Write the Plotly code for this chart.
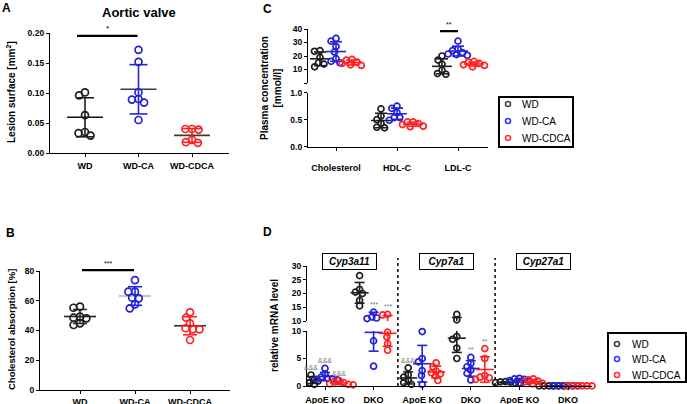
import math
import numpy as np
import plotly.graph_objects as go

W, H = 687, 404
FONT = "Liberation Sans"

# ---------------- data ----------------
groups = ["WD", "WD-CA", "WD-CDCA"]

# Panel A - lesion surface [mm2]
A_wd = [0.101, 0.096, 0.063, 0.035, 0.033, 0.029]
A_ca = [0.172, 0.152, 0.101, 0.089, 0.084, 0.090, 0.055]
A_cdca = [0.039, 0.040, 0.040, 0.022, 0.017, 0.018]
A_yticks = [0.0, 0.05, 0.10, 0.15, 0.20]

# Panel B - cholesterol absorption [%]
B_wd = [55.3, 56.0, 48.2, 49.3, 48.6, 43.7, 44.8]
B_ca = [73.9, 66.1, 66.1, 62.1, 61.6, 57.6, 54.9]
B_cdca = [52.2, 48.6, 44.8, 40.8, 40.8, 41.5, 33.6]
B_yticks = [0, 20, 40, 60, 80]

# Panel C - plasma concentration [mmol/l]
C_categories = ["Cholesterol", "HDL-C", "LDL-C"]
C_wd = [[23.5, 24.0, 19.0, 14.0, 12.0, 15.0],
        [0.70, 0.57, 0.50, 0.43, 0.35, 0.36],
        [20.0, 17.0, 14.0, 9.5, 6.5, 7.0]]
C_ca = [[33.0, 31.0, 27.0, 23.0, 18.0, 16.0, 15.0],
        [0.75, 0.71, 0.63, 0.54, 0.54, 0.49],
        [31.0, 25.0, 24.0, 22.5, 21.5, 21.0, 20.5]]
C_cdca = [[17.5, 17.0, 14.5, 13.5, 13.0, 15.5],
          [0.46, 0.46, 0.43, 0.41, 0.38, 0.37],
          [16.0, 15.5, 14.5, 13.0, 12.0, 13.5]]
C_upper_ticks = [0, 10, 20, 30, 40]
C_lower_ticks = [0.0, 0.5, 1.0]

# Panel D - relative mRNA level
D_genes = ["Cyp3a11", "Cyp7a1", "Cyp27a1"]
D_genotypes = ["ApoE KO", "DKO"]
D_wd = [[2.0, 1.5, 1.2, 0.9, 0.6, 0.3],
        [26.5, 21.5, 20.5, 20.0, 17.5, 15.5],
        [3.3, 2.0, 1.6, 1.0, 0.6, 0.3],
        [12.4, 10.4, 9.0, 8.5, 6.9, 5.0],
        [0.8, 0.75, 0.7, 0.6, 0.55, 0.5],
        [0.05, 0.04, 0.03, 0.03, 0.02, 0.02]]
D_ca = [[3.2, 2.2, 1.6, 1.4, 1.3, 1.2, 1.1],
        [13.2, 11.5, 11.1, 10.9, 8.2, 3.6],
        [9.9, 5.0, 4.4, 2.8, 1.9, 0.3],
        [5.2, 4.1, 3.5, 2.9, 2.3, 1.1],
        [1.4, 1.3, 1.2, 1.0, 0.8, 0.5],
        [0.05, 0.04, 0.03, 0.02, 0.02, 0.01]]
D_cdca = [[1.0, 0.8, 0.6, 0.4, 0.3, 0.2],
          [12.4, 12.2, 9.8, 8.9, 7.7, 6.5],
          [4.2, 3.5, 2.7, 2.4, 2.2, 1.8, 1.0],
          [6.8, 5.0, 1.9, 1.6, 1.5, 1.2],
          [1.3, 1.1, 0.9, 0.7, 0.5, 0.4],
          [0.04, 0.03, 0.03, 0.02, 0.02, 0.01]]
D_upper_ticks = [10, 15, 20, 25, 30]
D_lower_ticks = [0, 5, 10]
# significance marks: (category index, group index, text)
D_marks = [(0, 0, "&&&"), (0, 1, "&&&"), (0, 2, "&&&"), (2, 0, "&&&"),
           (1, 1, "***"), (1, 2, "***"), (3, 1, "**"), (3, 2, "**")]

# ---------------- style ----------------
GCOL = ["#1e1e1e", "#2323d6", "#ff2222"]
LEGCOL = ["#444444", "#3434ff", "#ff3434"]


def px_x(px):
    return px / W


def px_y(py):
    return 1 - py / H


def swarm(vals, ypx, d):
    order = sorted(range(len(vals)), key=lambda i: -vals[i])
    placed, offs = [], [0.0] * len(vals)
    for i in order:
        y = ypx(vals[i])
        cands = [0.0]
        for x0, y0 in placed:
            dy = abs(y - y0)
            if dy < d:
                dx = math.sqrt(d * d - dy * dy)
                cands += [x0 + dx, x0 - dx]
        cands.sort(key=lambda c: (abs(c), c))
        chosen = 0.0
        for c in cands:
            if all((c - x0) ** 2 + (y - y0) ** 2 >= d * d - 1e-6 for x0, y0 in placed):
                chosen = c
                break
        placed.append((chosen, y))
        offs[i] = chosen
    return offs


fig = go.Figure()


def draw_panel(xa, segments, data, pos, ppu, ypx, msize, d, hw, cw, mean_cols, bar_cols):
    """data[g][c] -> list of values; segments: (yaxis, lo, hi)."""
    for gi in range(len(data)):
        seg_pts = {s[0]: ([], []) for s in segments}
        seg_bar = {s[0]: ([], []) for s in segments}
        seg_mean = {s[0]: ([], []) for s in segments}
        for ci, vals in enumerate(data[gi]):
            c = pos(gi, ci)
            offs = swarm(vals, ypx, d)
            m = float(np.mean(vals))
            s = float(np.std(vals, ddof=1))
            for k, (ya, lo, hi) in enumerate(segments):
                last = k == len(segments) - 1
                px_, py_ = seg_pts[ya]
                for v, o in zip(vals, offs):
                    inside = (lo <= v <= hi) if last else (lo <= v < hi)
                    if inside:
                        px_.append(c + o / ppu)
                        py_.append(v)
                bx, by = seg_bar[ya]
                a, b = max(m - s, lo), min(m + s, hi)
                if a < b:
                    bx += [c, c, None]
                    by += [a, b, None]
                for v in (m - s, m + s):
                    if lo <= v <= hi:
                        bx += [c - cw / ppu, c + cw / ppu, None]
                        by += [v, v, None]
                mx, my = seg_mean[ya]
                if lo <= m <= hi:
                    mx += [c - hw / ppu, c + hw / ppu, None]
                    my += [m, m, None]
        for ya, lo, hi in segments:
            bx, by = seg_bar[ya]
            if bx:
                fig.add_trace(go.Scatter(x=bx, y=by, xaxis=xa, yaxis=ya, mode="lines",
                                         line=dict(color=bar_cols[gi], width=1.6),
                                         showlegend=False, hoverinfo="skip"))
            mx, my = seg_mean[ya]
            if mx:
                fig.add_trace(go.Scatter(x=mx, y=my, xaxis=xa, yaxis=ya, mode="lines",
                                         line=dict(color=mean_cols[gi], width=1.6),
                                         showlegend=False, hoverinfo="skip"))
            px_, py_ = seg_pts[ya]
            if px_:
                fig.add_trace(go.Scatter(x=px_, y=py_, xaxis=xa, yaxis=ya, mode="markers",
                                         marker=dict(symbol="circle-open", size=msize,
                                                     color=GCOL[gi], line=dict(width=1.7)),
                                         cliponaxis=False, showlegend=False, name=groups[gi]))


# ---- Panel A ----
A_ppu = 53.5
A_x0 = 85.0
A_ypx = lambda v: 153 - v * 600
draw_panel("x", [("y", 0, 0.2)], [[A_wd], [A_ca], [A_cdca]],
           lambda g, c: g, A_ppu, A_ypx, 7, 6.6, 18, 9,
           ["#111111", "#3a3a3a", "#3a3a3a"], GCOL)

# ---- Panel B ----
B_ppu = 55.0
B_x0 = 80.0
B_ypx = lambda v: 390 - v * 119 / 80
draw_panel("x2", [("y2", 0, 80)], [[B_wd], [B_ca], [B_cdca]],
           lambda g, c: g, B_ppu, B_ypx, 7, 6.6, 16, 7,
           ["#222222", "#b5b5b5", "#333333"], ["#333333", GCOL[1], GCOL[2]])

# ---- Panel C ----
C_ppu = 61.0
C_x0 = 336.0
C_goff = 16.0 / C_ppu


def C_ypx(v):
    return 83 - v * 1.35 if v >= 1 else 146.7 - v * 54


draw_panel("x3", [("y4", 0, 1.0), ("y3", 1.0, 40)], [C_wd, C_ca, C_cdca],
           lambda g, c: c + (g - 1) * C_goff, C_ppu, C_ypx, 6, 5.6, 10, 6,
           GCOL, GCOL)

# ---- Panel D ----
D_ppu = 48.6
D_x0 = 325.0
D_goff = 14.0 / D_ppu


def D_ypx(v):
    return 321 - (v - 10) * 2.75 if v >= 10 else 386 - v * 5.5


draw_panel("x4", [("y6", 0, 10), ("y5", 10, 30)], [D_wd, D_ca, D_cdca],
           lambda g, c: c + (g - 1) * D_goff, D_ppu, D_ypx, 6, 5.0, 9, 5,
           GCOL, GCOL)

# ---------------- axes ----------------
tickfont = dict(family=FONT, size=9, color="black", weight="bold")
base = dict(showline=True, linecolor="black", linewidth=1.3, ticks="outside", ticklen=3,
            tickwidth=1.2, tickcolor="black", showgrid=False, zeroline=False,
            fixedrange=True, automargin=False, tickfont=tickfont)

fig.update_layout(
    template="none",
    xaxis=dict(base, domain=[px_x(50), px_x(229)], range=[(50 - A_x0) / A_ppu, (229 - A_x0) / A_ppu],
               anchor="y", tickvals=[0, 1, 2], ticktext=groups, ticklabelstandoff=1),
    yaxis=dict(base, domain=[px_y(153), px_y(33)], range=[0, 0.2], anchor="x",
               tickvals=A_yticks, ticktext=[f"{v:.2f}" for v in A_yticks],
               tickfont=dict(tickfont, size=8.5)),
    xaxis2=dict(base, domain=[px_x(40), px_x(230)], range=[(40 - B_x0) / B_ppu, (230 - B_x0) / B_ppu],
                anchor="y2", tickvals=[0, 1, 2], ticktext=groups, ticklabelstandoff=0),
    yaxis2=dict(base, domain=[px_y(390), px_y(271)], range=[0, 80], anchor="x2",
                tickvals=B_yticks, tickfont=dict(tickfont, size=8.5)),
    xaxis3=dict(base, domain=[px_x(308), px_x(488)], range=[(308 - C_x0) / C_ppu, (488 - C_x0) / C_ppu],
                anchor="y4", tickvals=[0, 1, 2], ticktext=C_categories, ticklabelstandoff=9),
    yaxis3=dict(base, domain=[px_y(83), px_y(29)], range=[0, 40], anchor="x3",
                tickvals=C_upper_ticks, ticktext=[""] + [str(v) for v in C_upper_ticks[1:]],
                tickfont=dict(tickfont, size=8.5)),
    yaxis4=dict(base, domain=[px_y(146.7), px_y(92.7)], range=[0, 1], anchor="x3",
                tickvals=C_lower_ticks, ticktext=[f"{v:.1f}" for v in C_lower_ticks],
                tickfont=dict(tickfont, size=8.5)),
    xaxis4=dict(base, domain=[px_x(307), px_x(592)], range=[(307 - D_x0) / D_ppu, (592 - D_x0) / D_ppu],
                anchor="y6", tickvals=list(range(6)), ticktext=D_genotypes * 3, ticklabelstandoff=2),
    yaxis5=dict(base, domain=[px_y(321), px_y(266)], range=[10, 30], anchor="x4",
                tickvals=D_upper_ticks, tickfont=dict(tickfont, size=8.5)),
    yaxis6=dict(base, domain=[px_y(386), px_y(331)], range=[0, 10], anchor="x4",
                tickvals=D_lower_ticks, tickfont=dict(tickfont, size=8.5)),
)

annotations = []
shapes = []


def ann(x, y, text, size=10, xanchor="center", yanchor="middle", **kw):
    d = dict(x=px_x(x), y=px_y(y), xref="paper", yref="paper", text=text, showarrow=False,
             xanchor=xanchor, yanchor=yanchor,
             font=dict(family=FONT, size=size, color=kw.pop("color", "black")))
    d.update(kw)
    annotations.append(d)


def sig_bar(xpx0, xpx1, ypx, txt, size):
    shapes.append(dict(type="line", xref="paper", yref="paper", x0=px_x(xpx0), x1=px_x(xpx1),
                       y0=px_y(ypx), y1=px_y(ypx), line=dict(color="black", width=2.2)))
    ann((xpx0 + xpx1) / 2, ypx - 1, txt, size, yanchor="bottom")


# panel letters & titles
ann(0, 8, "<b>A</b>", 12, xanchor="left")
ann(4, 233, "<b>B</b>", 12, xanchor="left")
ann(261, 8.5, "<b>C</b>", 12, xanchor="left")
ann(261, 232, "<b>D</b>", 12, xanchor="left")
ann(139, 12, "<b>Aortic valve</b>", 13)
ann(11, 92, "<b>Lesion surface [mm<sup>2</sup>]</b>", 10, textangle=-90)
ann(11, 330, "<b>Cholesterol absorption [%]</b>", 9.5, textangle=-90)
ann(271, 88, "<b>Plasma concentration<br>[mmol/l]</b>", 10, textangle=-90)
ann(274, 326, "<b>relative mRNA level</b>", 10, textangle=-90)

# significance bars (WD vs WD-CA), placed a little above the highest WD-CA point
sig_bar(A_x0 - 8, A_x0 + A_ppu - 1, A_ypx(max(A_ca)) - 14, "*", 8)
sig_bar(B_x0 + 2, B_x0 + B_ppu - 1, B_ypx(max(B_ca)) - 10, "***", 7)
sig_bar(C_x0 + (2 - C_goff) * C_ppu - 2, C_x0 + 2 * C_ppu, C_ypx(max(C_ca[2])) - 10, "**", 7)

# D significance marks
D_all = [D_wd, D_ca, D_cdca]
for ci, gi, txt in D_marks:
    vals = D_all[gi][ci]
    m = float(np.mean(vals)); s = float(np.std(vals, ddof=1))
    top = max(max(vals), m + s)
    ya = "y5" if top >= 10 else "y6"
    annotations.append(dict(x=ci + (gi - 1) * D_goff, y=top, xref="x4", yref=ya, text=txt,
                            showarrow=False, xanchor="center", yanchor="bottom", yshift=2,
                            font=dict(family=FONT, size=7, color="#777777")))

# gene boxes & separators
for k, gname in enumerate(D_genes):
    annotations.append(dict(x=2 * k + 0.5, y=px_y(261), xref="x4", yref="paper",
                            text=f"<b><i>{gname}</i></b>", showarrow=False,
                            xanchor="center", yanchor="middle",
                            font=dict(family=FONT, size=10), bordercolor="black",
                            borderwidth=1, borderpad=2, bgcolor="white", width=49, height=11))
for xs in (1.5, 3.5):
    shapes.append(dict(type="line", xref="x4", yref="paper", x0=xs, x1=xs,
                       y0=px_y(386), y1=px_y(258), line=dict(color="black", width=1.5, dash="dot")))

# legends (box + circle symbols + labels in page coordinates)
leg_specs = [((499, 97, 573, 147), 508, 520, [104, 121, 138]),
             ((608, 333, 686, 382), 617, 630, [344, 359, 375])]
r = 2.5
for (x0, y0, x1, y1), mx, tx, ys in leg_specs:
    shapes.append(dict(type="rect", xref="paper", yref="paper", x0=px_x(x0), x1=px_x(x1),
                       y0=px_y(y1), y1=px_y(y0), line=dict(color="black", width=2)))
    for gi, yy in enumerate(ys):
        shapes.append(dict(type="circle", xref="paper", yref="paper",
                           x0=px_x(mx - r), x1=px_x(mx + r), y0=px_y(yy + r), y1=px_y(yy - r),
                           line=dict(color=LEGCOL[gi], width=1.6)))
        ann(tx, yy, groups[gi], 10, xanchor="left")

fig.update_layout(width=W, height=H, autosize=False, margin=dict(l=0, r=0, t=0, b=0, pad=0),
                  plot_bgcolor="rgba(0,0,0,0)", paper_bgcolor="white", showlegend=False,
                  annotations=annotations, shapes=shapes,
                  font=dict(family=FONT, color="black"))

fig.write_html("out.html", config={"displayModeBar": False},
               post_script="document.body.style.margin='0px';")
